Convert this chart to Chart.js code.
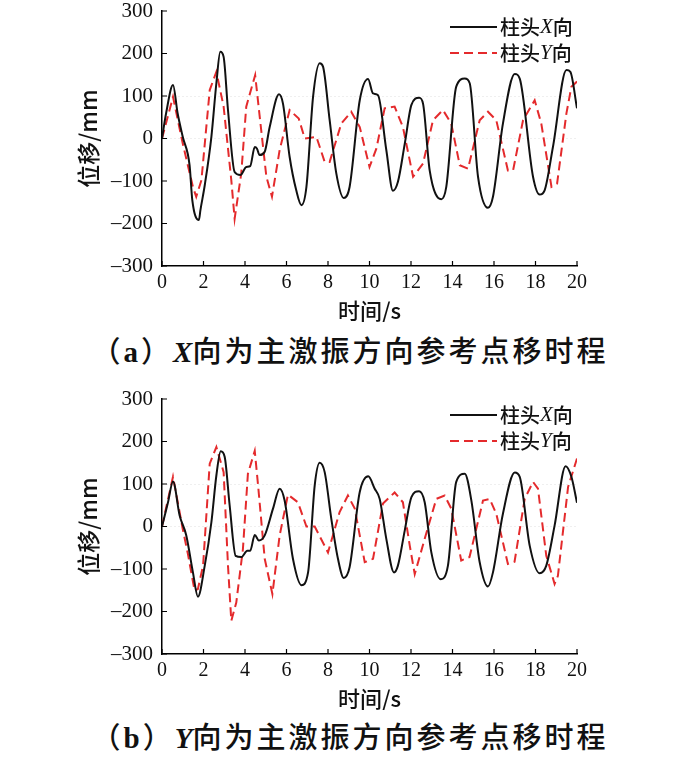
<!DOCTYPE html>
<html>
<head>
<meta charset="utf-8">
<script src="https://cdn.jsdelivr.net/npm/chart.js@4"></script>
<style>
  body { margin: 0; width: 700px; height: 759px; background: #fff; position: relative; overflow: hidden; }
  canvas { position: absolute; left: 0; }
  #chartA { top: 0; }
  #chartB { top: 388px; }
  .cap { position: absolute; left: 0; width: 700px; text-align: center; height: 36px; line-height: 36px;
         font-family: "Noto Sans CJK SC"; font-weight: 500; font-size: 29px; letter-spacing: 3px; color: #111; }
  .cap .lat { font-family: "Liberation Serif"; font-weight: bold; }
  .cap i { font-family: "Liberation Serif"; font-weight: bold; letter-spacing: 0; }
</style>
</head>
<body>
<canvas id="chartA" width="700" height="322"></canvas>
<div class="cap" style="top:331px">（<span class="lat">a</span>）<i>X</i>向为主激振方向参考点移时程</div>
<canvas id="chartB" width="700" height="322"></canvas>
<div class="cap" style="top:717px">（<span class="lat">b</span>）<i>Y</i>向为主激振方向参考点移时程</div>

<script>
// axis ticks
var xTicks = [0, 2, 4, 6, 8, 10, 12, 14, 16, 18, 20];
var yTicks = [-300, -200, -100, 0, 100, 200, 300];
var seriesNames = ['柱头X向', '柱头Y向'];

// (a) X direction main excitation - column head X
var tXa = [0, 0.2, 0.53, 0.75, 1.0, 1.33, 1.46, 1.78, 1.85, 2.06, 2.38, 2.62, 2.81, 2.97, 3.18, 3.5, 3.78, 4.06, 4.25, 4.47, 4.58, 4.7, 4.95, 5.19, 5.64, 5.83, 6.15, 6.47, 6.72, 6.96, 7.28, 7.6, 7.76, 8.08, 8.4, 8.76, 9.04, 9.53, 9.93, 10.17, 10.41, 10.81, 11.13, 11.37, 11.7, 12.02, 12.39, 12.58, 12.9, 13.46, 13.7, 14.18, 14.59, 14.83, 15.23, 15.71, 15.95, 16.43, 17.0, 17.24, 17.88, 18.2, 18.44, 18.84, 19.49, 19.68, 20.0];
var vXa = [0, 60, 126, 60, 4, -63, -145, -192, -169, -110, 4, 130, 204, 192, 67, -79, -86, -67, -65, -20, -24, -39, -31, 27, 104, 82, -43, -122, -157, -114, 98, 177, 169, 43, -82, -140, -114, 90, 140, 106, 102, -27, -123, -102, -12, 79, 96, 82, -75, -143, -114, 122, 141, 130, -90, -163, -137, 35, 152, 141, -90, -132, -122, -20, 161, 157, 71];
// (a) column head Y
var tYa = [0, 0.53, 1.0, 1.49, 1.65, 1.9, 2.3, 2.62, 2.97, 3.34, 3.5, 3.82, 4.06, 4.49, 4.71, 5.03, 5.3, 5.67, 6.15, 6.59, 6.88, 7.44, 7.84, 8.08, 8.64, 9.12, 9.53, 10.0, 10.33, 10.73, 11.21, 11.61, 12.1, 12.58, 13.06, 13.54, 13.94, 14.35, 14.75, 15.31, 15.71, 16.11, 16.67, 16.92, 17.4, 17.96, 18.28, 18.77, 19.04, 19.49, 19.73, 20.0];
var vYa = [0, 98, -12, -114, -137, -98, 114, 157, 75, -98, -189, -82, 75, 149, 51, -90, -137, -27, 67, 47, 0, 4, -55, -55, 35, 63, 27, -67, -24, 71, 75, 27, -90, -59, 43, 67, 35, -63, -71, 43, 63, 43, -75, -75, 43, 90, 35, -114, -106, 59, 122, 134];

// (b) Y direction main excitation - column head X
var tXb = [0, 0.29, 0.53, 0.85, 1.17, 1.49, 1.73, 2.06, 2.38, 2.62, 2.83, 3.02, 3.26, 3.55, 3.82, 4.11, 4.25, 4.47, 4.67, 4.95, 5.35, 5.67, 5.91, 6.31, 6.72, 7.04, 7.36, 7.6, 7.84, 8.16, 8.48, 8.76, 9.04, 9.53, 9.94, 10.25, 10.49, 10.81, 11.18, 11.37, 11.7, 12.02, 12.39, 12.66, 12.98, 13.43, 13.78, 14.18, 14.59, 14.91, 15.31, 15.71, 15.95, 16.43, 17.0, 17.24, 17.72, 18.2, 18.52, 18.92, 19.45, 19.73, 20.0];
var vXb = [0, 57, 106, 26, -21, -108, -165, -92, 10, 120, 177, 164, 50, -69, -72, -57, -57, -20, -33, -21, 42, 89, 61, -76, -138, -108, 97, 150, 128, 18, -76, -121, -96, 81, 118, 89, 65, -29, -108, -92, -9, 69, 83, 57, -61, -124, -92, 105, 124, 61, -84, -141, -108, 30, 127, 117, -45, -110, -92, 2, 142, 117, 56];
// (b) column head Y
var tYb = [0, 0.53, 1.0, 1.25, 1.57, 1.73, 1.98, 2.3, 2.62, 2.97, 3.18, 3.34, 3.58, 3.9, 4.14, 4.47, 4.63, 4.95, 5.32, 5.67, 6.07, 6.55, 6.96, 7.36, 8.0, 8.56, 8.96, 9.29, 9.77, 10.17, 10.65, 11.21, 11.61, 11.94, 12.18, 12.66, 13.22, 13.62, 13.94, 14.42, 14.82, 15.47, 15.79, 16.11, 16.67, 16.99, 17.48, 17.88, 18.12, 18.52, 18.92, 19.08, 19.57, 20.0];
var vYb = [0, 117, -6, -65, -151, -147, -92, 148, 187, 128, -92, -222, -179, -53, 124, 178, 97, -76, -159, -21, 75, 57, 0, 0, -61, 34, 73, 42, -84, -76, 54, 80, 57, -45, -112, -29, 65, 73, 42, -80, -72, 61, 65, 30, -88, -83, 65, 105, 89, -69, -135, -116, 93, 160];

var RED = '#e42a2c';

function pts(t, v) {
    return t.map(function (tt, i) { return { x: tt, y: v[i] }; });
}

// inward tick marks + legend with italic X/Y
var decor = {
    id: 'decor',
    afterDatasetsDraw: function (chart) {
        var ctx = chart.ctx, a = chart.chartArea, xs = chart.scales.x, ys = chart.scales.y;
        ctx.save();
        ctx.strokeStyle = '#000';
        ctx.lineWidth = 1.2;
        ctx.beginPath();
        xs.ticks.forEach(function (t) {
            var px = xs.getPixelForValue(t.value);
            ctx.moveTo(px, a.bottom); ctx.lineTo(px, a.bottom - 5);
        });
        ys.ticks.forEach(function (t) {
            var py = ys.getPixelForValue(t.value);
            ctx.moveTo(a.left, py); ctx.lineTo(a.left + 5, py);
        });
        ctx.stroke();

        chart.data.datasets.forEach(function (ds, i) {
            var ly = a.top + 16 + i * 26;
            ctx.strokeStyle = ds.borderColor;
            ctx.lineWidth = ds.borderWidth;
            ctx.setLineDash(ds.borderDash || []);
            ctx.beginPath();
            ctx.moveTo(a.right - 127, ly); ctx.lineTo(a.right - 80, ly);
            ctx.stroke();
            ctx.setLineDash([]);
            var tx = a.right - 77;
            ctx.fillStyle = '#111';
            ctx.textBaseline = 'middle';
            ds.label.split(/([XY])/).forEach(function (part) {
                if (!part) return;
                ctx.font = /^[XY]$/.test(part) ? 'italic 21px "Liberation Serif"' : '500 20px "Noto Sans CJK SC"';
                ctx.fillText(part, tx, ly);
                tx += ctx.measureText(part).width;
            });
        });
        ctx.restore();
    }
};

function makeChart(id, tX, vX, tY, vY) {
    var ctx = document.getElementById(id).getContext('2d');
    return new Chart(ctx, {
        type: 'line',
        data: {
            datasets: [
                {
                    label: seriesNames[0],
                    data: pts(tX, vX),
                    borderColor: '#111',
                    borderWidth: 2,
                    pointRadius: 0,
                    cubicInterpolationMode: 'monotone',
                    fill: false
                },
                {
                    label: seriesNames[1],
                    data: pts(tY, vY),
                    borderColor: RED,
                    borderWidth: 2,
                    borderDash: [9, 5],
                    pointRadius: 0,
                    tension: 0,
                    fill: false
                }
            ]
        },
        options: {
            responsive: false,
            animation: false,
            layout: { padding: { top: 11, right: 123, left: 0, bottom: 0 } },
            plugins: { legend: { display: false }, tooltip: { enabled: false } },
            scales: {
                x: {
                    type: 'linear',
                    min: 0, max: 20,
                    afterBuildTicks: function (s) { s.ticks = xTicks.map(function (v) { return { value: v }; }); },
                    afterFit: function (s) { s.height = 56; s.paddingLeft = 0; s.paddingRight = 0; },
                    grid: { display: false, drawTicks: false },
                    border: { display: true, color: '#000', width: 1.5 },
                    ticks: {
                        padding: 5,
                        maxRotation: 0,
                        color: '#111',
                        font: { family: 'Liberation Serif', size: 20 }
                    },
                    title: {
                        display: true,
                        text: '时间/s',
                        color: '#111',
                        padding: 0,
                        font: { family: 'Noto Sans CJK SC', size: 22, weight: '500', lineHeight: 1 }
                    }
                },
                y: {
                    min: -300, max: 300,
                    afterBuildTicks: function (s) { s.ticks = yTicks.map(function (v) { return { value: v }; }); },
                    afterFit: function (s) { s.width = 162; s.paddingTop = 0; s.paddingBottom = 0; },
                    grid: {
                        drawTicks: false,
                        color: function (c) {
                            return (c.tick && (c.tick.value === 0 || c.tick.value === 100)) ? 'rgba(0,0,0,0.13)' : 'rgba(0,0,0,0)';
                        },
                        lineWidth: 1
                    },
                    border: { display: true, color: '#000', width: 1.5, dash: [1, 3] },
                    ticks: {
                        padding: 9,
                        color: '#111',
                        font: { family: 'Liberation Serif', size: 21 },
                        callback: function (v) { return v < 0 ? '\u2013' + Math.abs(v) : String(v); }
                    },
                    title: {
                        display: true,
                        text: '位移/mm',
                        color: '#111',
                        padding: { top: 77, bottom: 0 },
                        font: { family: 'Noto Sans CJK SC', size: 23, weight: '500', lineHeight: 1 }
                    }
                }
            }
        },
        plugins: [decor]
    });
}

makeChart('chartA', tXa, vXa, tYa, vYa);
makeChart('chartB', tXb, vXb, tYb, vYb);
</script>
</body>
</html>
